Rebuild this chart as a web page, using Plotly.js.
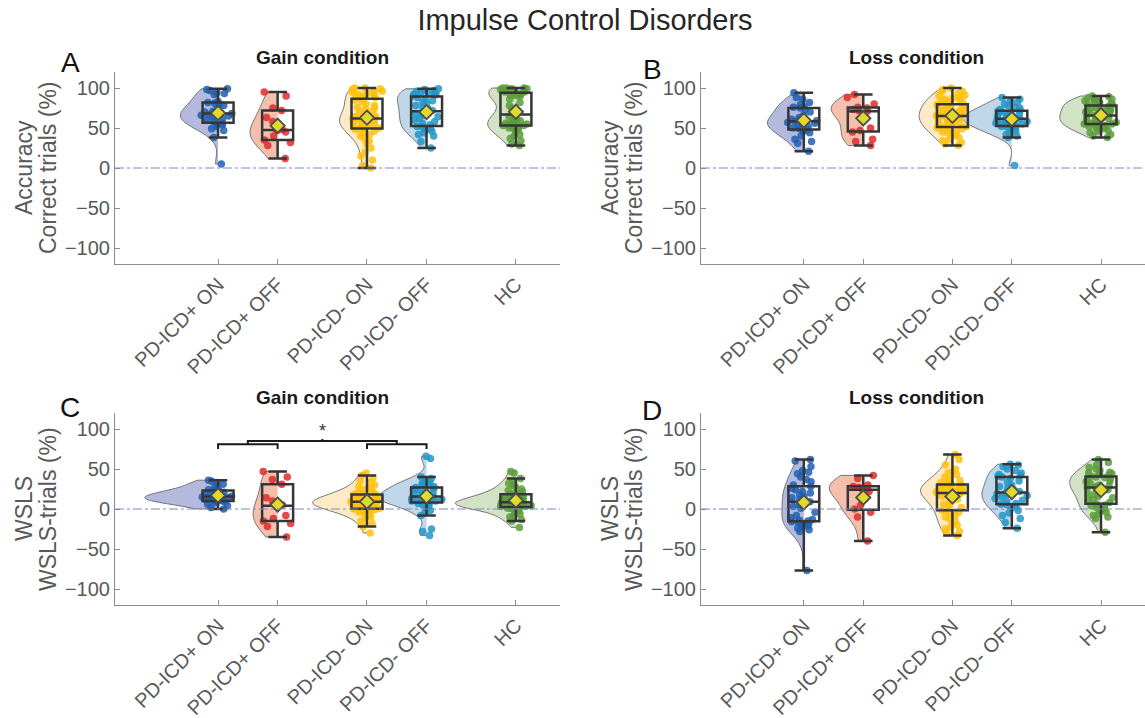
<!DOCTYPE html>
<html><head><meta charset="utf-8">
<script src="https://cdn.plot.ly/plotly-3.0.1.min.js"></script>
<style>html,body{margin:0;padding:0;background:#fff}#chart{width:1145px;height:718px}</style>
</head><body><div id="chart"></div>
<script>
// ---------------- data ----------------
const groups = ['PD-ICD+ ON', 'PD-ICD+ OFF', 'PD-ICD- ON', 'PD-ICD- OFF', 'HC'];
const groupPos = [1, 2, 3.5, 4.5, 6];
const yTickVals = [-100, -50, 0, 50, 100];
const mainTitle = 'Impulse Control Disorders';
const panelTitles = ['Gain condition', 'Loss condition', 'Gain condition', 'Loss condition'];
const panelLetters = ['A', 'B', 'C', 'D'];
const panelYTitles = [['Accuracy', 'Correct trials (%)'], ['Accuracy', 'Correct trials (%)'],
                      ['WSLS', 'WSLS-trials (%)'], ['WSLS', 'WSLS-trials (%)']];

// Panel A: Accuracy, gain
const accGainIcdOn   = [99,98,97,94,93,92,82,81,83,80,78,75,71,69,70,68,67,66,65,64,62,60,58,56,55,54,52,49,47,38,5];
const accGainIcdOff  = [95,90,75,72,63,58,48,47,45,40,35,32,28,12];
const accGainNoIcdOn = [100,100,99,98,97,96,95,94,93,92,91,90,89,88,87,85,83,80,78,76,75,73,71,70,68,66,65,64,63,62,62,61,60,59,58,57,56,55,55,54,53,52,51,50,49,48,46,44,42,40,37,34,30,25,20,15,10,3,0];
const accGainNoIcdOff= [99,98,97,96,95,94,93,92,91,90,88,86,84,82,80,78,76,74,72,71,70,68,66,64,62,60,58,56,54,52,51,50,48,46,44,42,40,33,25];
const accGainHC      = [100,100,100,99,99,98,98,97,97,96,95,95,94,93,92,91,90,90,86,82,78,75,72,70,68,66,64,62,60,59,58,57,56,55,55,54,53,53,52,51,50,50,48,45,42,40,37,34,30,28];
// Panel B: Accuracy, loss
const accLossIcdOn   = [94,88,86,82,79,77,76,75,73,70,66,63,61,60,59,58,57,56,54,52,50,49,48,46,44,40,36,33,31,21];
const accLossIcdOff  = [92,88,80,76,75,73,72,71,66,50,47,45,36,33,28];
const accLossNoIcdOn = [100,98,96,95,93,91,90,88,87,86,85,84,83,82,80,79,78,77,76,75,74,73,72,71,70,69,68,67,66,65,65,64,63,62,61,60,59,58,57,56,55,54,53,52,51,50,49,48,46,45,44,42,40,38,36,34,32,30,28];
const accLossNoIcdOff= [88,86,84,82,80,78,76,75,73,72,71,70,69,68,67,66,65,64,63,62,61,61,60,59,58,57,56,55,54,53,52,51,50,48,46,44,42,40,38,3];
const accLossHC      = [90,89,88,87,86,85,84,83,82,81,80,79,78,77,76,75,74,73,72,71,70,69,68,67,66,65,65,64,63,62,61,60,59,58,57,56,55,55,54,53,52,51,50,48,47,46,44,42,40,38];
// Panel C: WSLS, gain
const wslsGainIcdOn   = [36,35,33,31,28,26,24,23,22,21,20,19,18,17,16,15,15,14,13,12,12,11,10,10,9,8,6,4,2,0];
const wslsGainIcdOff  = [47,40,37,31,14,10,5,3,-8,-12,-15,-18,-22,-35];
const wslsGainNoIcdOn = [45,42,38,35,33,30,28,26,25,24,22,21,20,19,18,18,17,16,15,14,14,13,12,12,11,11,10,10,9,9,8,8,7,7,6,6,5,5,4,4,3,3,2,1,0,0,-1,-2,-3,-4,-5,-6,-8,-10,-12,-15,-18,-22,-30];
const wslsGainNoIcdOff= [66,63,40,38,36,34,32,30,29,28,27,26,25,24,22,21,20,19,18,17,16,15,14,14,13,12,12,11,10,10,9,8,7,5,3,1,-2,-5,-8,-25,-28,-33];
const wslsGainHC      = [47,45,38,35,32,30,28,25,23,22,20,19,18,17,16,15,14,13,12,11,10,10,9,9,8,8,7,7,6,6,5,5,4,4,3,3,2,2,1,0,-2,-4,-6,-8,-10,-13,-15,-23];
// Panel D: WSLS, loss
const wslsLossIcdOn   = [62,60,53,48,46,44,40,37,34,30,28,26,24,22,20,18,16,14,12,10,9,7,5,3,1,-4,-8,-11,-13,-14,-15,-16,-17,-18,-20,-21,-22,-24,-26,-28,-77];
const wslsLossIcdOff  = [42,38,30,28,27,25,24,22,5,0,-4,-10,-40];
const wslsLossNoIcdOn = [68,62,55,50,47,45,43,40,38,36,35,33,32,31,30,29,28,27,26,25,24,23,23,22,22,21,21,20,19,18,17,16,15,14,12,10,8,6,4,2,0,-2,-4,-6,-8,-10,-12,-15,-18,-20,-23,-25,-28,-30,-33];
const wslsLossNoIcdOff= [56,55,53,50,48,45,43,42,41,40,38,35,33,30,28,26,24,22,21,20,19,18,17,15,13,11,9,7,6,5,3,1,-2,-5,-8,-12,-17,-24];
const wslsLossHC      = [62,58,55,52,50,48,46,45,44,43,42,41,40,39,38,36,35,34,32,30,29,28,27,27,26,25,24,22,20,18,16,14,12,10,8,6,5,4,2,0,-2,-4,-6,-8,-10,-12,-29];

const panelData = [
  [accGainIcdOn, accGainIcdOff, accGainNoIcdOn, accGainNoIcdOff, accGainHC],
  [accLossIcdOn, accLossIcdOff, accLossNoIcdOn, accLossNoIcdOff, accLossHC],
  [wslsGainIcdOn, wslsGainIcdOff, wslsGainNoIcdOn, wslsGainNoIcdOff, wslsGainHC],
  [wslsLossIcdOn, wslsLossIcdOff, wslsLossNoIcdOn, wslsLossNoIcdOff, wslsLossHC]
];
// significance comparison in panel C: (ICD+ ON vs OFF) vs (ICD- ON vs OFF)
const sigPanel = 2;
const sigPairs = [[0, 1], [2, 3]];
const sigLabel = '*';

// ---------------- styles ----------------
const pointColors  = ['#1f5fb4', '#e3282b', '#ffc20e', '#2196c8', '#5b9e3a'];
const violinColors = ['#b4b9de', '#f5c0ab', '#feeac6', '#c0d7ea', '#d2e2c5'];
const tickColor = '#595959', axisLineColor = '#8c8c8c';
const FONT = '"Liberation Sans", Arial, Helvetica, sans-serif';
const W = 1145, H = 718;
const xDomains = [[115, 560], [701, 1145]];
const yDomains = [[72, 264], [413, 605]];
const VIOLIN_MAX_HALF = 1.23;

// ---------------- helpers ----------------
function mean(a) { return a.reduce((s, v) => s + v, 0) / a.length; }
function quantile(sorted, p) {
  const i = (sorted.length - 1) * p, lo = Math.floor(i), hi = Math.ceil(i);
  return sorted[lo] + (sorted[hi] - sorted[lo]) * (i - lo);
}
function kdePeak(vals) {
  const s = vals.slice().sort((a, b) => a - b), n = s.length, m = mean(s);
  const sd = Math.sqrt(s.reduce((t, v) => t + (v - m) * (v - m), 0) / (n - 1));
  const iqr = quantile(s, 0.75) - quantile(s, 0.25);
  const bw = 1.059 * Math.min(sd, iqr > 0 ? iqr / 1.349 : sd) * Math.pow(n, -0.2);
  let peak = 0;
  for (let k = 0; k <= 200; k++) {
    const x = s[0] + (s[n - 1] - s[0]) * k / 200;
    let d = 0;
    for (const v of s) { const u = (x - v) / bw; d += Math.exp(-0.5 * u * u); }
    d /= (n * bw * Math.sqrt(2 * Math.PI));
    peak = Math.max(peak, d);
  }
  return peak;
}

const peaks = panelData.map(p => p.map(kdePeak));
const globalPeak = Math.max(...peaks.flat());

const traces = [];
const layout = {
  width: W, height: H, autosize: false,
  margin: {l: 0, r: 0, t: 0, b: 0},
  paper_bgcolor: '#fff', plot_bgcolor: 'rgba(0,0,0,0)',
  showlegend: false, boxmode: 'overlay', violinmode: 'overlay',
  font: {family: FONT, color: tickColor},
  title: {text: mainTitle, x: 585 / W, xanchor: 'center', y: 1 - 20 / H, yanchor: 'middle',
          font: {size: 29, color: '#262626', family: FONT}},
  annotations: [], shapes: []
};

panelData.forEach((pdata, p) => {
  const col = p % 2, row = Math.floor(p / 2);
  const sfx = p === 0 ? '' : String(p + 1);
  const xa = 'x' + sfx, ya = 'y' + sfx;
  const xd = xDomains[col], yd = yDomains[row];
  layout['xaxis' + sfx] = {
    domain: [xd[0] / W, xd[1] / W], anchor: ya, range: [-0.73, 6.74],
    tickmode: 'array', tickvals: groupPos, ticktext: groups, tickangle: -45,
    ticks: 'inside', ticklen: 5, tickcolor: axisLineColor,
    showline: true, linecolor: axisLineColor, linewidth: 1,
    showgrid: false, zeroline: false, fixedrange: true,
    tickfont: {size: 20, color: tickColor, family: FONT}
  };
  layout['yaxis' + sfx] = {
    domain: [1 - yd[1] / H, 1 - yd[0] / H], anchor: xa, range: [-120, 120],
    tickmode: 'array', tickvals: yTickVals,
    ticks: 'inside', ticklen: 5, tickcolor: axisLineColor,
    showline: true, linecolor: axisLineColor, linewidth: 1,
    showgrid: false, zeroline: false, fixedrange: true,
    tickfont: {size: 20, color: tickColor, family: FONT}
  };
  // zero reference line
  layout.shapes.push({type: 'line', xref: xa + ' domain', x0: 0, x1: 1, yref: ya, y0: 0, y1: 0,
    line: {color: '#7d86c6', width: 1, dash: 'dashdot'}, layer: 'above'});

  pdata.forEach((vals, g) => {
    traces.push({
      type: 'violin', x0: groupPos[g], y: vals, xaxis: xa, yaxis: ya,
      side: 'negative', width: 2 * VIOLIN_MAX_HALF * peaks[p][g] / globalPeak,
      spanmode: 'hard', points: false, fillcolor: violinColors[g],
      line: {color: '#6a6a6a', width: 0.9}, box: {visible: false}, meanline: {visible: false},
      hoverinfo: 'skip', name: groups[g]
    });
  });
  pdata.forEach((vals, g) => {
    // jittered sample points
    traces.push({
      type: 'box', x0: groupPos[g], y: vals, xaxis: xa, yaxis: ya, width: 0.58,
      boxpoints: 'all', jitter: 1, pointpos: 0,
      marker: {color: pointColors[g], size: 7.5, opacity: 0.85, line: {width: 0}},
      line: {width: 0, color: 'rgba(0,0,0,0)'}, fillcolor: 'rgba(0,0,0,0)',
      hoverinfo: 'skip', name: groups[g]
    });
    // box & whiskers (whiskers at 1.5 IQR, outlier markers hidden)
    traces.push({
      type: 'box', x0: groupPos[g], y: vals, xaxis: xa, yaxis: ya, width: 0.52,
      boxpoints: 'outliers', whiskerwidth: 0.6,
      marker: {opacity: 0, size: 1},
      line: {width: 2.5, color: '#363636'}, fillcolor: 'rgba(0,0,0,0)',
      hoverinfo: 'skip', name: groups[g]
    });
  });
  // group means
  traces.push({
    type: 'scatter', mode: 'markers', x: groupPos, y: pdata.map(mean), xaxis: xa, yaxis: ya,
    marker: {symbol: 'diamond', size: 11, color: '#e2da2a', line: {color: '#4d4d4d', width: 1.8}},
    hoverinfo: 'skip'
  });

  // titles, letters, y titles
  const cx = (col === 0 ? 322 : 916) / W;
  layout.annotations.push({text: '<b>' + panelTitles[p] + '</b>', xref: 'paper', yref: 'paper',
    x: cx, y: 1 - (row === 0 ? 57 : 398) / H, xanchor: 'center', yanchor: 'middle', showarrow: false,
    font: {size: 19, color: '#1a1a1a', family: FONT}});
  layout.annotations.push({text: panelLetters[p], xref: 'paper', yref: 'paper',
    x: (col === 0 ? 70 : 652) / W, y: 1 - (row === 0 ? (col === 0 ? 62 : 70) : (col === 0 ? 407 : 410)) / H,
    xanchor: 'center', yanchor: 'middle', showarrow: false,
    font: {size: 28, color: '#111', family: FONT}});
  const yc = 1 - (yd[0] + yd[1]) / 2 / H;
  panelYTitles[p].forEach((t, k) => {
    layout.annotations.push({text: t, xref: 'paper', yref: 'paper',
      x: (xd[0] - 91 + 24 * k) / W, y: yc, xanchor: 'center', yanchor: 'middle',
      textangle: -90, showarrow: false, font: {size: 23, color: tickColor, family: FONT}});
  });

  // significance bracket
  if (p === sigPanel) {
    const legLow = 75, legHigh = 81, connTop = 85, tickTop = 87.5, starY = 97;
    const mids = sigPairs.map(pr => {
      const a = groupPos[pr[0]], b = groupPos[pr[1]];
      layout.shapes.push({type: 'path', xref: xa, yref: ya,
        path: `M ${a},${legLow} L ${a},${legHigh} L ${b},${legHigh} L ${b},${legLow}`,
        line: {color: '#1a1a1a', width: 2}});
      return (a + b) / 2;
    });
    layout.shapes.push({type: 'path', xref: xa, yref: ya,
      path: `M ${mids[0]},${legHigh} L ${mids[0]},${connTop} L ${mids[1]},${connTop} L ${mids[1]},${legHigh}`,
      line: {color: '#1a1a1a', width: 2}});
    const c = (mids[0] + mids[1]) / 2;
    layout.shapes.push({type: 'line', xref: xa, yref: ya, x0: c, x1: c, y0: connTop, y1: tickTop,
      line: {color: '#1a1a1a', width: 2}});
    layout.annotations.push({text: sigLabel, xref: xa, yref: ya, x: c, y: starY,
      showarrow: false, font: {size: 18, color: '#333', family: FONT}});
  }
});

Plotly.newPlot('chart', traces, layout, {staticPlot: true, displayModeBar: false});
</script></body></html>
